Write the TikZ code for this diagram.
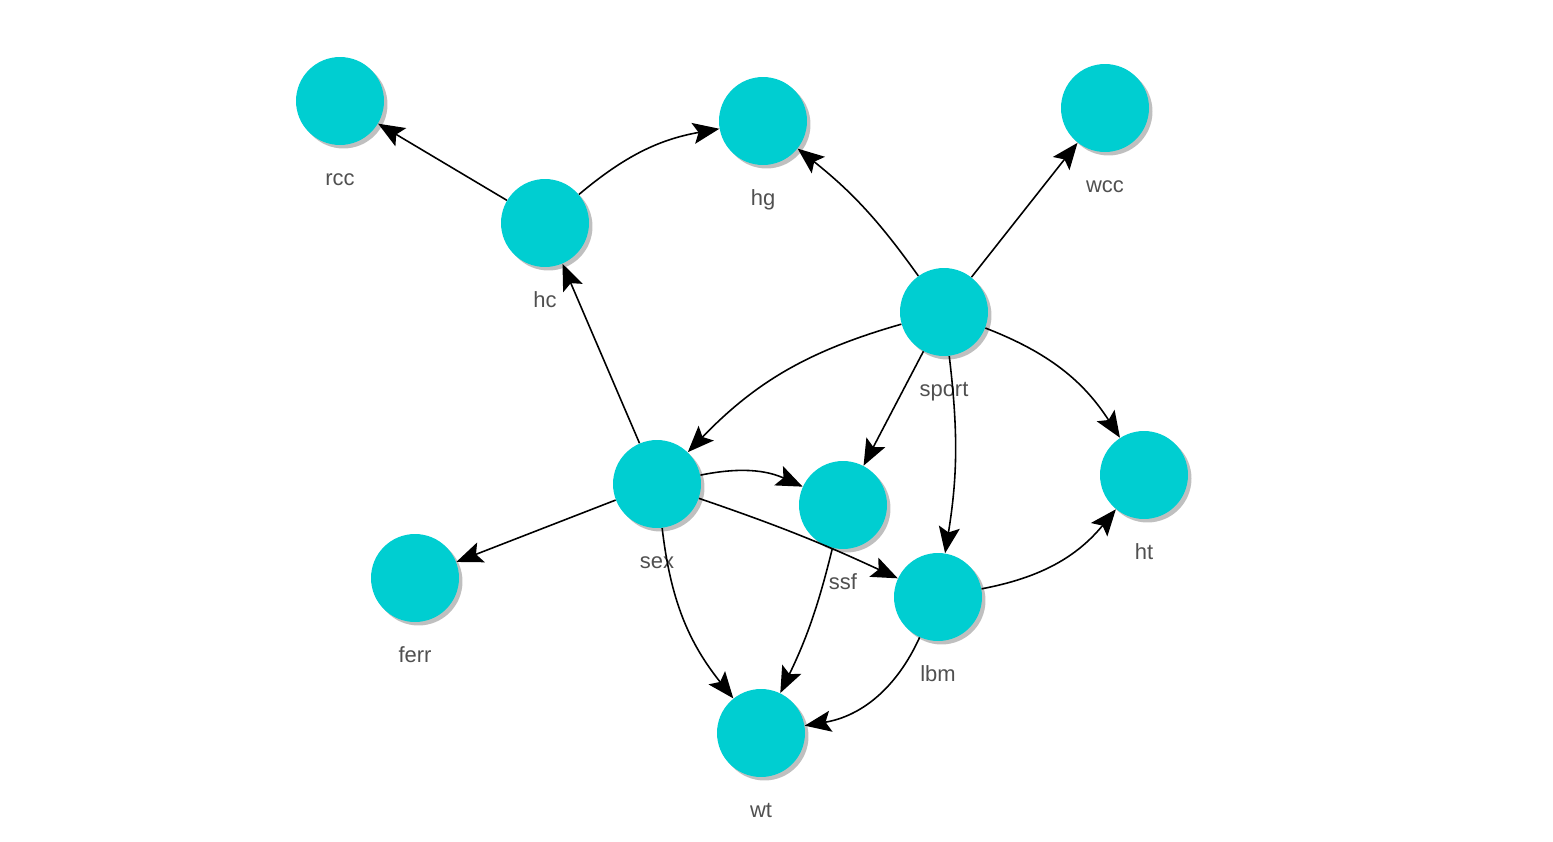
\documentclass[tikz,border=0pt]{standalone}
\usepackage{fontspec}
\setmainfont{Liberation Sans}
\usepackage{tikz}
\usetikzlibrary{arrows.meta, shadows}
\definecolor{nodefill}{RGB}{0, 206, 209}
\definecolor{labeltext}{RGB}{80, 80, 80}

\begin{document}
\begin{tikzpicture}[
    x=0.02cm, y=-0.02cm,
    varnode/.style={circle, fill=nodefill, minimum size=1.76cm, inner sep=0pt,
      drop shadow={shadow xshift=0.07cm, shadow yshift=-0.07cm, opacity=0.5},
      label={[varlabel]below:#1}},
    varlabel/.style={font=\fontsize{12.5}{14}\selectfont, text=labeltext,
      text height=0.75em, text depth=0.2em, label distance=0.42cm},
    link/.style={-{Stealth[length=15pt, width=12pt, inset=3pt]}, line width=0.9pt, black}
  ]
  \useasboundingbox (0,0) rectangle (1553,842);

  % Nodes
  \node[varnode=rcc] (rcc) at (340,101) {};
  \node[varnode=hg] (hg) at (763,121) {};
  \node[varnode=wcc] (wcc) at (1105,108) {};
  \node[varnode=hc] (hc) at (545,223) {};
  \node[varnode=sport] (sport) at (944,312) {};
  \node[varnode=sex] (sex) at (657,484) {};
  \node[varnode=ssf] (ssf) at (843,505) {};
  \node[varnode=ht] (ht) at (1144,475) {};
  \node[varnode=ferr] (ferr) at (415,578) {};
  \node[varnode=lbm] (lbm) at (938,597) {};
  \node[varnode=wt] (wt) at (761,733) {};

  % Links
  \draw[link] (hc) -- (rcc);
  \draw[link] (hc) to[bend left=15] (hg);
  \draw[link] (sport) to[bend right=8] (hg);
  \draw[link] (sport) -- (wcc);
  \draw[link] (sport) to[bend right=15] (sex);
  \draw[link] (sport) -- (ssf);
  \draw[link] (sport) to[bend left=8] (lbm);
  \draw[link] (sport) to[bend left=18] (ht);
  \draw[link] (sex) -- (hc);
  \draw[link] (sex) to[bend left=18] (ssf);
  \draw[link] (sex) to[bend left=3] (lbm);
  \draw[link] (sex) -- (ferr);
  \draw[link] (sex) to[bend right=16] (wt);
  \draw[link] (ssf) to[bend left=6] (wt);
  \draw[link] (lbm) to[bend right=20] (ht);
  \draw[link] (lbm) to[bend left=28] (wt);

\end{tikzpicture}
\end{document}
